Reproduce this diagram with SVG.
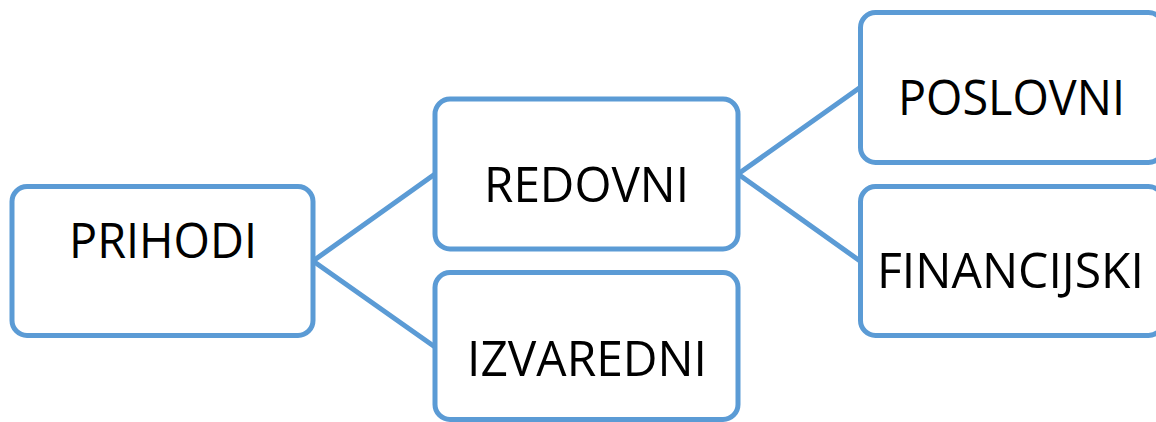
<svg xmlns="http://www.w3.org/2000/svg" width="1156" height="422" viewBox="0 0 1156 422">
<style>
.box{fill:#fff;stroke:#5B9BD5;stroke-width:5}
.lbl{font-family:"Open Sans","Noto Sans","Liberation Sans",sans-serif;font-size:49px;fill:#000;text-anchor:middle}
.conn{stroke:#5B9BD5;stroke-width:5;fill:none;stroke-linecap:round}
</style>
<rect width="1156" height="422" fill="#fff"/>
<g id="connectors">
<line class="conn" x1="313" y1="261" x2="435" y2="174"/>
<line class="conn" x1="313" y1="261" x2="435" y2="347"/>
<line class="conn" x1="738" y1="174" x2="860" y2="87.5"/>
<line class="conn" x1="738" y1="174" x2="860" y2="261"/>
</g>
<g id="prihodi">
<rect class="box" x="12" y="186.5" width="301" height="149" rx="15"/>
<text class="lbl" x="163" y="258" textLength="188" lengthAdjust="spacingAndGlyphs">PRIHODI</text>
</g>
<g id="redovni">
<rect class="box" x="435" y="99" width="303" height="150" rx="15"/>
<text class="lbl" x="586.5" y="201.5" textLength="205" lengthAdjust="spacingAndGlyphs">REDOVNI</text>
</g>
<g id="izvaredni">
<rect class="box" x="435" y="272.5" width="303" height="147" rx="15"/>
<text class="lbl" x="587" y="376" textLength="240" lengthAdjust="spacingAndGlyphs">IZVAREDNI</text>
</g>
<g id="poslovni">
<rect class="box" x="860.5" y="12.5" width="303" height="150" rx="15"/>
<text class="lbl" x="1011.5" y="115" textLength="227" lengthAdjust="spacingAndGlyphs">POSLOVNI</text>
</g>
<g id="financijski">
<rect class="box" x="860.5" y="186.5" width="303" height="149" rx="15"/>
<text class="lbl" x="1010.5" y="288" textLength="267" lengthAdjust="spacingAndGlyphs">FINANCIJSKI</text>
</g>
</svg>
